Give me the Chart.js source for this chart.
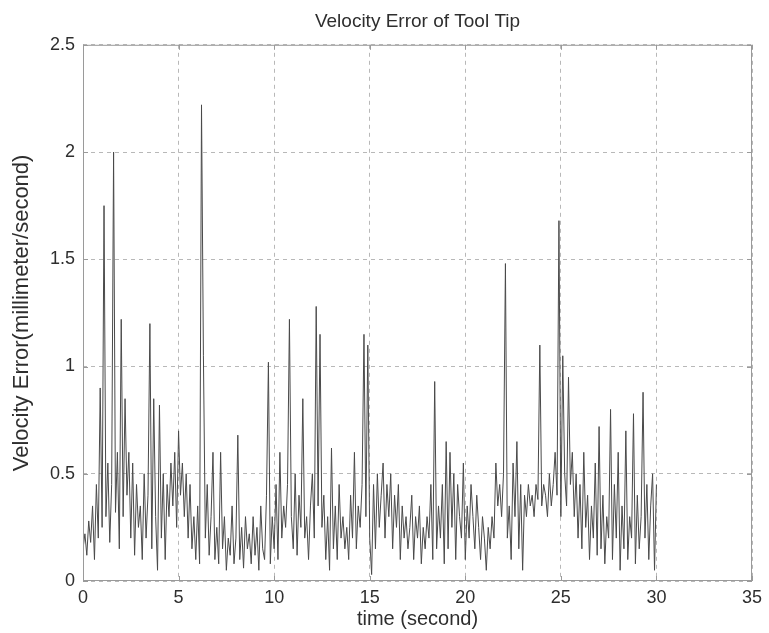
<!DOCTYPE html>
<html>
<head>
<meta charset="utf-8">
<title>Velocity Error of Tool Tip</title>
<script src="https://cdn.jsdelivr.net/npm/chart.js@4/dist/chart.umd.min.js"></script>
<style>
    body { margin: 0; background: #fff; }
    canvas { display: block; }
</style>
</head>
<body>
<canvas id="chart-velocity" width="769" height="633"></canvas>
<script>
// Sample spacing of the recorded error signal (seconds)
const sampleStep = 0.1;

// Velocity error, one row per second of the run (mm/s)
const velocityError = [
    0.15, 0.22, 0.12, 0.28, 0.18, 0.35, 0.10, 0.45, 0.20, 0.90,
    0.25, 1.75, 0.30, 0.55, 0.18, 0.45, 2.00, 0.32, 0.60, 0.15,
    1.22, 0.30, 0.85, 0.40, 0.60, 0.20, 0.55, 0.12, 0.45, 0.25,
    0.35, 0.10, 0.50, 0.20, 0.40, 1.20, 0.15, 0.85, 0.30, 0.05,
    0.82, 0.20, 0.50, 0.10, 0.45, 0.30, 0.55, 0.35, 0.60, 0.25,
    0.70, 0.40, 0.55, 0.30, 0.50, 0.20, 0.45, 0.15, 0.30, 0.10,
    0.35, 0.08, 2.22, 1.05, 0.20, 0.45, 0.12, 0.30, 0.60, 0.10,
    0.25, 0.08, 0.60, 0.15, 0.30, 0.05, 0.20, 0.12, 0.35, 0.08,
    0.20, 0.68, 0.10, 0.25, 0.06, 0.30, 0.15, 0.22, 0.08, 0.30,
    0.12, 0.25, 0.05, 0.35, 0.15, 0.10, 0.40, 1.02, 0.08, 0.30,
    0.15, 0.45, 0.10, 0.60, 0.20, 0.35, 0.25, 0.45, 1.22, 0.30,
    0.15, 0.50, 0.12, 0.40, 0.25, 0.85, 0.20, 0.30, 0.10, 0.35,
    0.50, 0.20, 1.28, 0.35, 1.15, 0.25, 0.40, 0.10, 0.30, 0.05,
    0.62, 0.15, 0.35, 0.10, 0.45, 0.20, 0.30, 0.15, 0.25, 0.10,
    0.40, 0.20, 0.60, 0.15, 0.35, 0.25, 0.45, 1.15, 0.30, 1.10,
    0.20, 0.03, 0.45, 0.15, 0.50, 0.25, 0.40, 0.55, 0.20, 0.45,
    0.30, 0.50, 0.15, 0.40, 0.25, 0.45, 0.10, 0.35, 0.20, 0.30,
    0.15, 0.25, 0.40, 0.10, 0.30, 0.20, 0.35, 0.08, 0.25, 0.15,
    0.30, 0.20, 0.45, 0.10, 0.93, 0.15, 0.35, 0.20, 0.45, 0.08,
    0.65, 0.15, 0.60, 0.25, 0.50, 0.10, 0.45, 0.30, 0.20, 0.55,
    0.10, 0.35, 0.20, 0.45, 0.30, 0.15, 0.40, 0.25, 0.10, 0.30,
    0.20, 0.05, 0.25, 0.15, 0.30, 0.20, 0.55, 0.35, 0.45, 0.30,
    0.50, 1.48, 0.20, 0.35, 0.10, 0.55, 0.30, 0.65, 0.15, 0.45,
    0.05, 0.40, 0.30, 0.45, 0.35, 0.40, 0.30, 0.45, 0.38, 1.10,
    0.35, 0.45, 0.40, 0.30, 0.50, 0.35, 0.45, 0.60, 0.40, 1.68,
    0.30, 1.05, 0.50, 0.35, 0.95, 0.45, 0.60, 0.30, 0.50, 0.20,
    0.45, 0.15, 0.60, 0.25, 0.40, 0.10, 0.35, 0.20, 0.55, 0.12,
    0.72, 0.15, 0.40, 0.08, 0.30, 0.20, 0.80, 0.10, 0.45, 0.20,
    0.60, 0.05, 0.35, 0.15, 0.70, 0.10, 0.30, 0.20, 0.78, 0.08,
    0.40, 0.15, 0.30, 0.88, 0.20, 0.45, 0.10, 0.35, 0.50, 0.05,
    0.45
];

// Axis limits and tick spacing
const timeRange = { min: 0, max: 35, step: 5 };
const errorRange = { min: 0, max: 2.5, step: 0.5 };

const points = velocityError.map((v, i) => ({ x: +(i * sampleStep).toFixed(2), y: v }));

const fontFamily = '"Liberation Sans", Arial, sans-serif';
const textColor = '#2e2e2e';
const gridColor = 'rgba(0, 0, 0, 0.28)';
const frameColor = '#9a9a9a';

// Closed box around the plot area plus small inward tick marks
const axesBox = {
    id: 'axesBox',
    afterDatasetsDraw(chart) {
        const { ctx, chartArea: a, scales } = chart;
        ctx.save();
        ctx.strokeStyle = frameColor;
        ctx.lineWidth = 1;
        ctx.strokeRect(a.left + 0.5, a.top + 0.5, a.right - a.left - 1, a.bottom - a.top - 1);
        ctx.beginPath();
        scales.x.ticks.forEach(t => {
            const px = Math.round(scales.x.getPixelForValue(t.value)) + 0.5;
            ctx.moveTo(px, a.bottom); ctx.lineTo(px, a.bottom - 5);
            ctx.moveTo(px, a.top); ctx.lineTo(px, a.top + 5);
        });
        scales.y.ticks.forEach(t => {
            const py = Math.round(scales.y.getPixelForValue(t.value)) + 0.5;
            ctx.moveTo(a.left, py); ctx.lineTo(a.left + 5, py);
            ctx.moveTo(a.right, py); ctx.lineTo(a.right - 5, py);
        });
        ctx.stroke();
        ctx.restore();
    }
};

const ctx = document.getElementById('chart-velocity').getContext('2d');

new Chart(ctx, {
    type: 'line',
    data: {
        datasets: [{
            label: 'Velocity Error',
            data: points,
            borderColor: '#4a4a4a',
            borderWidth: 1,
            pointRadius: 0,
            tension: 0,
            fill: false
        }]
    },
    options: {
        responsive: false,
        animation: false,
        parsing: false,
        layout: {
            padding: { top: 0, right: 17, bottom: 0, left: 0 }
        },
        plugins: {
            legend: { display: false },
            tooltip: { enabled: false },
            title: {
                display: true,
                fullSize: false, // centre the title over the plot area only
                text: 'Velocity Error of Tool Tip',
                color: textColor,
                font: { family: fontFamily, size: 19, weight: 'normal' },
                padding: { top: 10, bottom: 12 }
            }
        },
        scales: {
            x: {
                type: 'linear',
                min: timeRange.min,
                max: timeRange.max,
                ticks: {
                    stepSize: timeRange.step,
                    color: textColor,
                    padding: 6,
                    maxRotation: 0,
                    font: { family: fontFamily, size: 18 }
                },
                grid: {
                    color: gridColor,
                    lineWidth: 1,
                    drawTicks: false
                },
                border: { display: false, dash: [4, 4] },
                title: {
                    display: true,
                    text: 'time (second)',
                    color: textColor,
                    font: { family: fontFamily, size: 20 },
                    padding: { top: 0, bottom: 2 }
                },
                afterFit(scale) { scale.height = 52; }
            },
            y: {
                min: errorRange.min,
                max: errorRange.max,
                ticks: {
                    stepSize: errorRange.step,
                    color: textColor,
                    padding: 8,
                    font: { family: fontFamily, size: 18 },
                    callback: v => String(+v.toFixed(1))
                },
                grid: {
                    color: gridColor,
                    lineWidth: 1,
                    drawTicks: false
                },
                border: { display: false, dash: [4, 4] },
                title: {
                    display: true,
                    text: 'Velocity Error(millimeter/second)',
                    color: textColor,
                    font: { family: fontFamily, size: 22 },
                    padding: { top: 9, bottom: 0 }
                },
                afterFit(scale) { scale.width = 83; }
            }
        }
    },
    plugins: [axesBox]
});
</script>
</body>
</html>
